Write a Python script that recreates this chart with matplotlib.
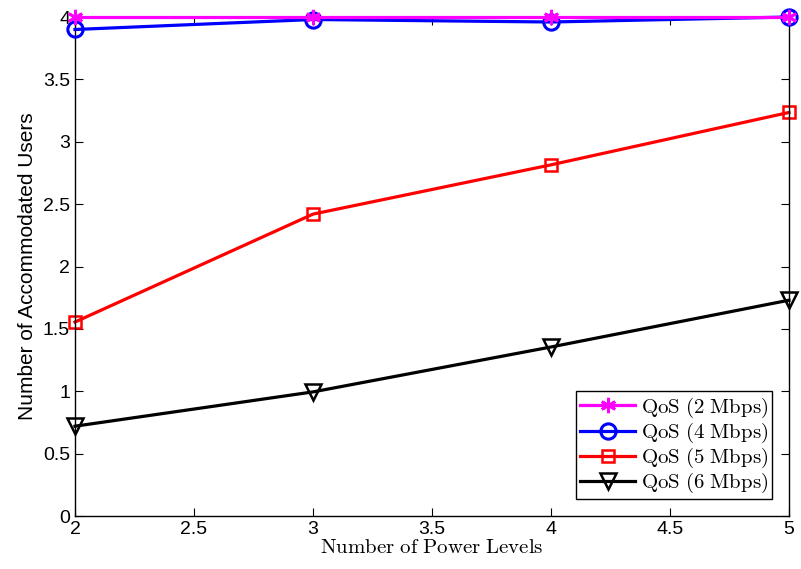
import matplotlib
matplotlib.use('Agg')
import matplotlib.pyplot as plt
from matplotlib.ticker import FormatStrFormatter

# Datos
niveles = [2, 3, 4, 5]
qos2 = [4.0, 4.0, 4.0, 4.0]
qos4 = [3.90, 3.98, 3.96, 4.0]
qos5 = [1.555, 2.42, 2.815, 3.235]
qos6 = [0.72, 0.995, 1.355, 1.73]

plt.rcParams['mathtext.fontset'] = 'cm'
plt.rcParams['font.family'] = ['Liberation Sans Narrow', 'Liberation Sans', 'DejaVu Sans']

fig = plt.figure(figsize=(8.01, 5.69), dpi=100)
ax = fig.add_axes([0.0936, 0.0931, 0.8914, 0.877])

ax.plot(niveles, qos2, color='#ff00ff', lw=2.3, marker=(6, 2, 0), ms=11, mew=2, label=r'$\mathrm{QoS\ (2\ Mbps)}$', clip_on=False, zorder=4)
ax.plot(niveles, qos4, color='#0000ff', lw=2.3, marker='o', ms=11, mfc='none', mew=2.2, label=r'$\mathrm{QoS\ (4\ Mbps)}$', clip_on=False, zorder=3)
ax.plot(niveles, qos5, color='#ff0000', lw=2.3, marker='s', ms=8, mfc='none', mew=1.8, label=r'$\mathrm{QoS\ (5\ Mbps)}$', clip_on=False)
ax.plot(niveles, qos6, color='black', lw=2.3, marker='v', ms=11, mfc='none', mew=1.8, label=r'$\mathrm{QoS\ (6\ Mbps)}$', clip_on=False)

ax.set_xlim(2, 5)
ax.set_ylim(0, 4)
ax.set_xticks([2, 2.5, 3, 3.5, 4, 4.5, 5])
ax.set_yticks([0, 0.5, 1, 1.5, 2, 2.5, 3, 3.5, 4])
ax.xaxis.set_major_formatter(FormatStrFormatter('%g'))
ax.yaxis.set_major_formatter(FormatStrFormatter('%g'))
ax.tick_params(direction='in', top=True, right=True, labelsize=14, length=6)
for s in ax.spines.values():
    s.set_linewidth(1)

ax.set_xlabel(r'$\mathrm{Number\ of\ Power\ Levels}$', fontsize=15, labelpad=0)
ax.set_ylabel('Number of Accommodated Users', fontsize=15, family=['Liberation Sans', 'DejaVu Sans'], labelpad=4)

leg = ax.legend(loc='lower right', fontsize=15, frameon=True, fancybox=False,
                edgecolor='black', framealpha=1, handlelength=2.6, borderpad=0.2,
                labelspacing=0.05, handletextpad=0.3, borderaxespad=0.8)
leg.get_frame().set_linewidth(1)

fig.savefig('out.png', dpi=100)
